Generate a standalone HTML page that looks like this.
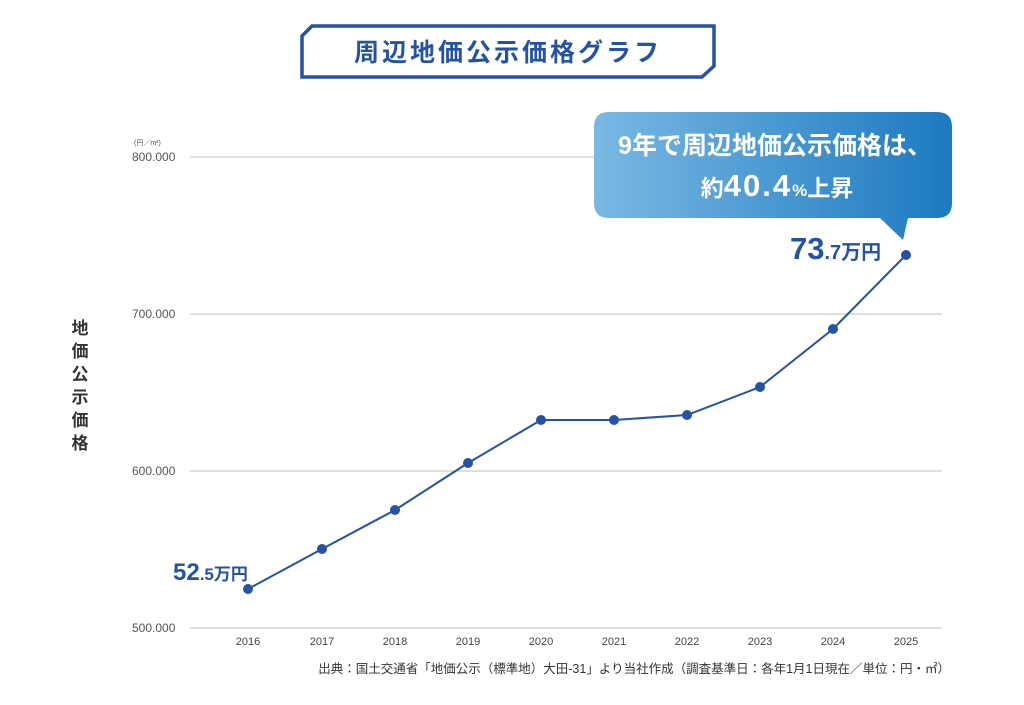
<!DOCTYPE html>
<html><head><meta charset="utf-8"><style>
body{margin:0;background:#fff;}
svg text{font-family:"Liberation Sans","Noto Sans CJK JP",sans-serif;}
</style></head><body>
<svg width="1024" height="700" viewBox="0 0 1024 700" xmlns="http://www.w3.org/2000/svg">
<defs><linearGradient id="g" x1="0" x2="1" y1="0" y2="0"><stop offset="0" stop-color="#7ab9e3"/><stop offset="1" stop-color="#1c79c0"/></linearGradient></defs>
<polygon points="312,26 714,26 714,66 702,77 302,77 302,36" fill="#fff" stroke="#2452a4" stroke-width="3.5"/>
<text x="508" y="61" text-anchor="middle" font-size="25" font-weight="bold" fill="#2452a4" letter-spacing="3">周辺地価公示価格グラフ</text>
<g stroke="#bdbdbd" stroke-width="1"><line x1="190" y1="157" x2="942" y2="157"/><line x1="190" y1="314" x2="942" y2="314"/><line x1="190" y1="471" x2="942" y2="471"/><line x1="190" y1="628" x2="942" y2="628"/></g>
<g font-size="12" fill="#555"><text x="134" y="145" font-size="7">(円／m²)</text>
<text x="132" y="161">800.000</text><text x="132" y="318">700.000</text><text x="132" y="475">600.000</text><text x="132" y="632">500.000</text></g>
<g font-size="17" font-weight="bold" fill="#333" text-anchor="middle"><text x="80" y="334">地</text><text x="80" y="357">価</text><text x="80" y="380">公</text><text x="80" y="403">示</text><text x="80" y="426">価</text><text x="80" y="449">格</text></g>
<g font-size="11" fill="#444" text-anchor="middle"><text x="248" y="645">2016</text><text x="322" y="645">2017</text><text x="395" y="645">2018</text><text x="468" y="645">2019</text><text x="541" y="645">2020</text><text x="614" y="645">2021</text><text x="687" y="645">2022</text><text x="760" y="645">2023</text><text x="833" y="645">2024</text><text x="906" y="645">2025</text></g>
<polyline fill="none" stroke="#2452a4" stroke-width="2" points="248,589 322,549 395,510 468,463 541,420 614,420 687,415 760,387 833,329 906,255"/>
<g fill="#2452a4"><circle cx="248" cy="589" r="5"/><circle cx="322" cy="549" r="5"/><circle cx="395" cy="510" r="5"/><circle cx="468" cy="463" r="5"/><circle cx="541" cy="420" r="5"/><circle cx="614" cy="420" r="5"/><circle cx="687" cy="415" r="5"/><circle cx="760" cy="387" r="5"/><circle cx="833" cy="329" r="5"/><circle cx="906" cy="255" r="5"/></g>
<text x="173" y="580" fill="#2452a4" font-weight="bold"><tspan font-size="24">52</tspan><tspan font-size="17">.5万円</tspan></text>
<text x="790" y="259" fill="#2452a4" font-weight="bold"><tspan font-size="31">73</tspan><tspan font-size="20">.7万円</tspan></text>
<path d="M609,112 H937 Q952,112 952,127 V203 Q952,218 937,218 H908 L903,240 L880,218 H609 Q594,218 594,203 V127 Q594,112 609,112 Z" fill="url(#g)"/>
<text x="775" y="154" text-anchor="middle" fill="#fff" font-size="25" font-weight="bold">9年で周辺地価公示価格は、</text>
<text x="777" y="196" text-anchor="middle" fill="#fff" font-weight="bold"><tspan font-size="23">約</tspan><tspan font-size="31" letter-spacing="2">40.4</tspan><tspan font-size="17">%</tspan><tspan font-size="23">上昇</tspan></text>
<text x="950" y="673" text-anchor="end" font-size="12.5" fill="#333">出典：国土交通省「地価公示（標準地）大田-31」より当社作成（調査基準日：各年1月1日現在／単位：円・㎡）</text>
</svg>
</body></html>
